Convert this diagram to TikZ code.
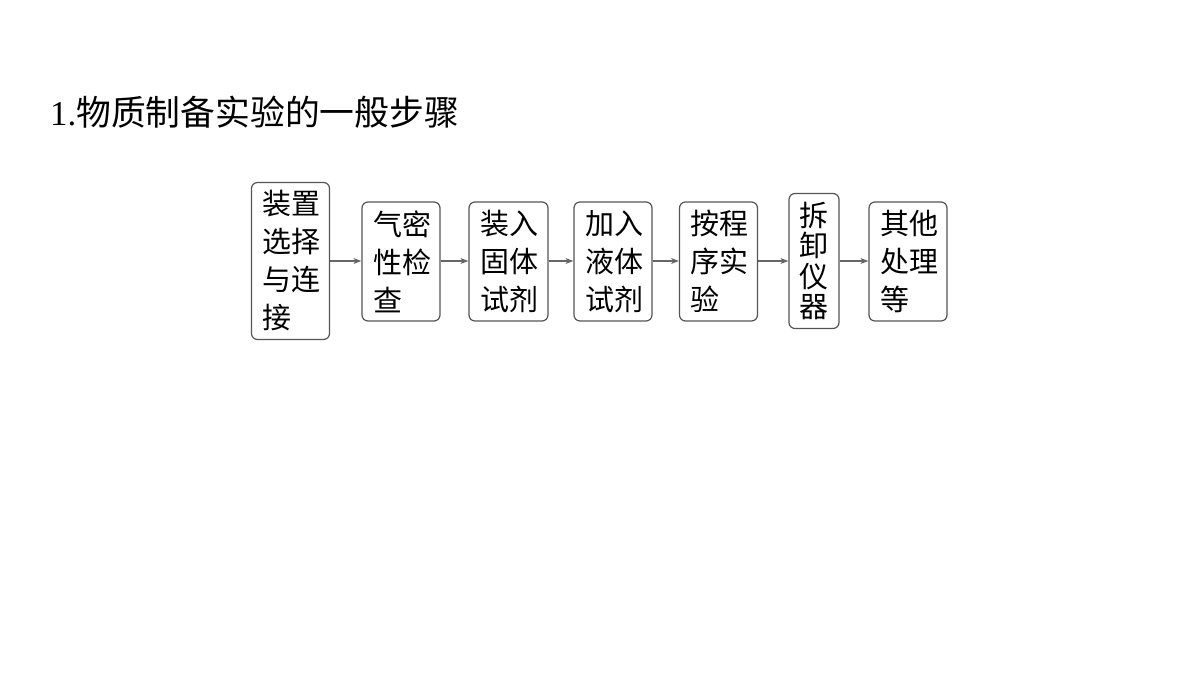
\documentclass[tikz,border=0pt]{standalone}
\usepackage{fontspec}
\setmainfont{Liberation Serif}
\newfontfamily\cjk{Noto Sans CJK SC}
\usetikzlibrary{arrows.meta}
\definecolor{boxline}{HTML}{555555}
\definecolor{arrline}{HTML}{666666}
\tikzset{
  stepbox/.style={draw=boxline, line width=1.2pt, rounded corners=6pt,
    inner sep=0pt, align=left, text width=56pt,
    font=\cjk\fontsize{29}{38}\selectfont},
  narrowbox/.style={draw=boxline, line width=1.2pt, rounded corners=6pt,
    inner sep=0pt, align=center, text width=30pt,
    font=\cjk\fontsize{29}{30.5}\selectfont},
  arr/.style={draw=arrline, line width=1.4pt, -{Stealth[length=8pt,width=6pt]}}
}
\begin{document}
\begin{tikzpicture}[x=1pt,y=-1pt]
\useasboundingbox[fill=white] (0,0) rectangle (1200,675);
\node[anchor=west, inner sep=0pt, font=\fontsize{34.8}{40}\selectfont] (title) at (50,112) {1.{\cjk 物质制备实验的一般步骤}};
\node[stepbox, minimum width=78pt, minimum height=157pt] (b1) at (290.5,261) {装置\\选择\\与连\\接};
\node[stepbox, minimum width=78pt, minimum height=119pt] (b2) at (401,261.5) {气密\\性检\\查};
\node[stepbox, minimum width=79pt, minimum height=119pt] (b3) at (508.5,261.5) {装入\\固体\\试剂};
\node[stepbox, minimum width=78pt, minimum height=119pt] (b4) at (613,261.5) {加入\\液体\\试剂};
\node[stepbox, minimum width=78pt, minimum height=119pt] (b5) at (718.5,261.5) {按程\\序实\\验};
\node[narrowbox, minimum width=50pt, minimum height=135pt] (b6) at (814,261) {拆\\卸\\仪\\器};
\node[stepbox, minimum width=78pt, minimum height=119pt] (b7) at (908,261.5) {其他\\处理\\等};
\foreach \a/\b in {b1/b2,b2/b3,b3/b4,b4/b5,b5/b6,b6/b7}{
  \draw[arr] (\a.east |- 0,261) -- (\b.west |- 0,261);
}
\end{tikzpicture}
\end{document}
